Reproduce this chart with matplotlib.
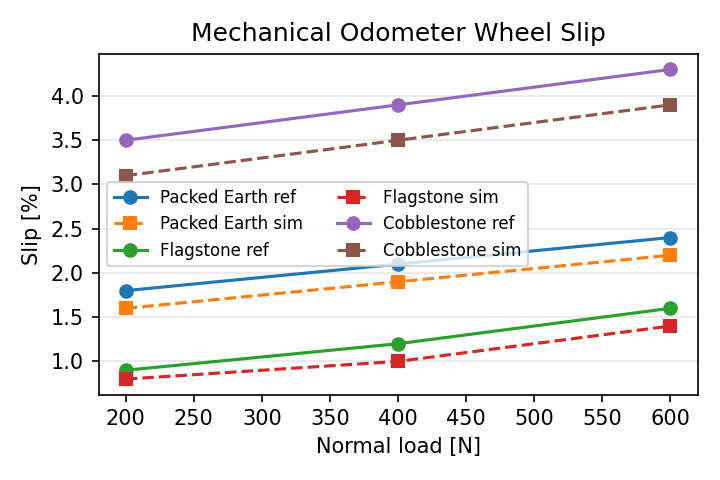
import matplotlib
matplotlib.use("Agg")
import matplotlib.pyplot as plt

loads = [200, 400, 600]
packed_ref = [1.8, 2.1, 2.4]
packed_sim = [1.6, 1.9, 2.2]
flag_ref = [0.9, 1.2, 1.6]
flag_sim = [0.8, 1.0, 1.4]
cobble_ref = [3.5, 3.9, 4.3]
cobble_sim = [3.1, 3.5, 3.9]

fig, ax = plt.subplots(figsize=(4.8, 3.2), dpi=150)
ax.plot(loads, packed_ref, "o-", color="C0", label="Packed Earth ref")
ax.plot(loads, packed_sim, "s--", color="C1", label="Packed Earth sim")
ax.plot(loads, flag_ref, "o-", color="C2", label="Flagstone ref")
ax.plot(loads, flag_sim, "s--", color="C3", label="Flagstone sim")
ax.plot(loads, cobble_ref, "o-", color="C4", label="Cobblestone ref")
ax.plot(loads, cobble_sim, "s--", color="C5", label="Cobblestone sim")

ax.set_title("Mechanical Odometer Wheel Slip")
ax.set_xlabel("Normal load [N]")
ax.set_ylabel("Slip [%]")
ax.grid(True, axis="y", alpha=0.3)
ax.legend(ncol=2, fontsize=8, loc="center left", bbox_to_anchor=(0.0, 0.5))
fig.tight_layout()
fig.savefig("out.png", dpi=150)
